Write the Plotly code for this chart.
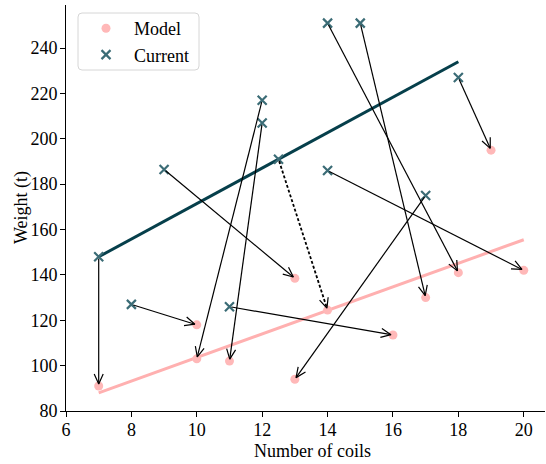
import math
import plotly.graph_objects as go

# ---- data ----
current_x = [7, 8, 9, 11, 12, 12, 12.5, 14, 15, 14, 17, 18]
current_y = [148, 127, 186.5, 126, 217, 207, 191, 251, 251, 186, 175, 227]
model_x = [7, 10, 13, 16, 10, 11, 14, 18, 17, 20, 13, 19]
model_y = [91, 118, 138.5, 113.5, 103, 102, 124.5, 141, 130, 142, 94, 195]
dashed = [False, False, False, False, False, False, True, False, False, False, False, False]

current_fit_x = [7, 18]
current_fit_y = [148, 234]
model_fit_x = [7, 20]
model_fit_y = [88, 155.5]

x_ticks = [6, 8, 10, 12, 14, 16, 18, 20]
y_ticks = [80, 100, 120, 140, 160, 180, 200, 220, 240]

# ---- layout geometry ----
W, H = 546, 464
ML, MR, MT, MB = 66, 1, 5, 53
PW, PH = W - ML - MR, H - MT - MB
xr = [6, 20.65]
yr = [80, 259]
sx = PW / (xr[1] - xr[0])
sy = PH / (yr[1] - yr[0])


def paper_x(px):
    return (px - ML) / PW


def paper_y(py):
    return (H - MB - py) / PH


FONT = "Liberation Serif"
FS = 18

fig = go.Figure()

# fit lines
fig.add_trace(go.Scatter(x=current_fit_x, y=current_fit_y, mode="lines",
                         line=dict(color="#063f4b", width=3), showlegend=False, hoverinfo="skip"))
fig.add_trace(go.Scatter(x=model_fit_x, y=model_fit_y, mode="lines",
                         line=dict(color="#ffb0b0", width=3), showlegend=False, hoverinfo="skip"))

# markers
fig.add_trace(go.Scatter(x=model_x, y=model_y, mode="markers", name="Model",
                         marker=dict(symbol="circle", color="#ffb8b8", size=9)))
fig.add_trace(go.Scatter(x=current_x, y=current_y, mode="markers", name="Current",
                         marker=dict(symbol="x-thin-open", color="#3b6c76", size=9,
                                     line=dict(width=2.2, color="#3b6c76"))))

# arrows (computed in pixel space from the data)
HL, HW, SHR = 10.0, 4.5, 2.0
solid_x, solid_y, dash_x, dash_y = [], [], [], []
head_x, head_y = [], []
for x1, y1, x2, y2, d in zip(current_x, current_y, model_x, model_y, dashed):
    px1, py1 = x1 * sx, y1 * sy
    px2, py2 = x2 * sx, y2 * sy
    L = math.hypot(px2 - px1, py2 - py1)
    ux, uy = (px2 - px1) / L, (py2 - py1) / L
    sx1, sy1 = px1 + ux * SHR, py1 + uy * SHR
    tx, ty = px2 - ux * SHR, py2 - uy * SHR
    if d:
        dash_x += [sx1 / sx, tx / sx, None]
        dash_y += [sy1 / sy, ty / sy, None]
    else:
        solid_x += [sx1 / sx, tx / sx, None]
        solid_y += [sy1 / sy, ty / sy, None]
    bx, by = tx - ux * HL, ty - uy * HL
    nx, ny = -uy, ux
    head_x += [(bx + nx * HW) / sx, tx / sx, (bx - nx * HW) / sx, None]
    head_y += [(by + ny * HW) / sy, ty / sy, (by - ny * HW) / sy, None]

fig.add_trace(go.Scatter(x=solid_x, y=solid_y, mode="lines",
                         line=dict(color="black", width=1.2), showlegend=False, hoverinfo="skip"))
fig.add_trace(go.Scatter(x=dash_x, y=dash_y, mode="lines",
                         line=dict(color="black", width=1.8, dash="3px,2px"), showlegend=False, hoverinfo="skip"))
fig.add_trace(go.Scatter(x=head_x, y=head_y, mode="lines",
                         line=dict(color="black", width=1.2), showlegend=False, hoverinfo="skip"))

axis_common = dict(showgrid=False, zeroline=False, showline=True, linecolor="black", linewidth=1,
                   ticks="outside", ticklen=5, tickwidth=1, tickcolor="black", automargin=False,
                   tickfont=dict(family=FONT, size=FS, color="black"))

# rounded legend frame
lx0, lx1, ly0, ly1, r = 78, 199, 13, 70, 4
x0, x1_, y0, y1_ = paper_x(lx0), paper_x(lx1), paper_y(ly1), paper_y(ly0)
rx, ry = r / PW, r / PH
frame_path = (f"M {x0+rx},{y0} L {x1_-rx},{y0} Q {x1_},{y0} {x1_},{y0+ry} "
              f"L {x1_},{y1_-ry} Q {x1_},{y1_} {x1_-rx},{y1_} "
              f"L {x0+rx},{y1_} Q {x0},{y1_} {x0},{y1_-ry} "
              f"L {x0},{y0+ry} Q {x0},{y0} {x0+rx},{y0} Z")

fig.update_layout(
    width=W, height=H,
    margin=dict(l=ML, r=MR, t=MT, b=MB, autoexpand=False),
    plot_bgcolor="white", paper_bgcolor="white",
    font=dict(family=FONT, color="black"),
    xaxis=dict(range=xr, tickvals=x_ticks, ticklabelstandoff=-3, **axis_common),
    yaxis=dict(range=yr, tickvals=y_ticks, ticklabelstandoff=-1, **axis_common),
    shapes=[dict(type="path", path=frame_path, xref="paper", yref="paper",
                 line=dict(color="#d6d6d6", width=1), fillcolor="rgba(255,255,255,0.8)", layer="above")],
    legend=dict(x=paper_x(78), y=paper_y(10), xanchor="left", yanchor="top",
                bgcolor="rgba(0,0,0,0)", borderwidth=0,
                font=dict(family=FONT, size=FS, color="black"), itemwidth=46),
    annotations=[
        dict(text="Number of coils", xref="paper", yref="paper", x=paper_x(312), y=paper_y(451),
             showarrow=False, font=dict(family=FONT, size=FS, color="black"),
             xanchor="center", yanchor="middle"),
        dict(text="Weight (t)", xref="paper", yref="paper", x=paper_x(21), y=paper_y(208),
             showarrow=False, textangle=-90, font=dict(family=FONT, size=FS, color="black"),
             xanchor="center", yanchor="middle"),
    ],
    showlegend=True,
)

fig.write_html("out.html", post_script="document.body.style.margin='0px';",
               config={"displayModeBar": False})
